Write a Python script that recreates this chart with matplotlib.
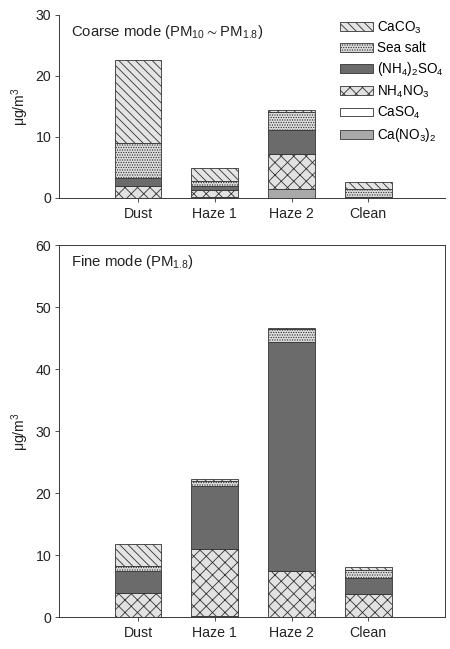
import matplotlib
matplotlib.use('Agg')
import matplotlib.pyplot as plt
import numpy as np

plt.rcParams['font.family'] = ['Liberation Sans', 'DejaVu Sans']
plt.rcParams['mathtext.fontset'] = 'custom'
plt.rcParams['mathtext.rm'] = 'Liberation Sans'
plt.rcParams['mathtext.default'] = 'regular'
plt.rcParams['hatch.linewidth'] = 0.8

# data
events = ['Dust', 'Haze 1', 'Haze 2', 'Clean']
species = ['Ca(NO$_3$)$_2$', 'CaSO$_4$', 'NH$_4$NO$_3$', '(NH$_4$)$_2$SO$_4$', 'Sea salt', 'CaCO$_3$']

coarse_CaNO3 = [0.0, 0.15, 1.4, 0.0]
coarse_CaSO4 = [0.0, 0.0, 0.0, 0.0]
coarse_NH4NO3 = [2.0, 1.1, 5.8, 0.1]
coarse_NH4SO4 = [1.2, 0.7, 4.0, 0.0]
coarse_seasalt = [5.8, 0.85, 2.9, 1.3]
coarse_CaCO3 = [13.6, 2.1, 0.3, 1.25]

fine_CaNO3 = [0.0, 0.2, 0.0, 0.0]
fine_CaSO4 = [0.0, 0.0, 0.0, 0.0]
fine_NH4NO3 = [3.95, 10.8, 7.5, 3.7]
fine_NH4SO4 = [3.4, 10.1, 36.9, 2.6]
fine_seasalt = [0.85, 0.9, 2.0, 1.3]
fine_CaCO3 = [3.5, 0.3, 0.2, 0.5]

coarse = [coarse_CaNO3, coarse_CaSO4, coarse_NH4NO3, coarse_NH4SO4, coarse_seasalt, coarse_CaCO3]
fine = [fine_CaNO3, fine_CaSO4, fine_NH4NO3, fine_NH4SO4, fine_seasalt, fine_CaCO3]

faces = ['#a9a9a9', 'white', '#e2e2e2', '#6b6b6b', '#dedede', '#e4e4e4']
hatches = [None, None, 'xx', None, '.....', '\\\\\\']
edge = '#333333'

fig = plt.figure(figsize=(6, 6.49 * 4 / 3), dpi=75)
ax1 = fig.add_axes([0.131, 0.695, 0.858, 0.282])
ax2 = fig.add_axes([0.131, 0.0493, 0.858, 0.573])

x = np.arange(len(events))


def stack(ax, layers):
    bottom = np.zeros(len(events))
    handles = []
    for vals, fc, h, lab in zip(layers, faces, hatches, species):
        b = ax.bar(x, vals, 0.61, bottom=bottom, color=fc, edgecolor=edge,
                   linewidth=0.8, hatch=h, label=lab)
        handles.append(b)
        bottom = bottom + np.array(vals)
    return handles


h = stack(ax1, coarse)
stack(ax2, fine)

for ax, top, step in [(ax1, 30, 10), (ax2, 60, 10)]:
    ax.set_xlim(-1.03, 4.0)
    ax.set_ylim(0, top)
    ax.set_yticks(np.arange(0, top + 1, step))
    ax.set_xticks(x)
    ax.set_xticklabels(events)
    ax.tick_params(axis='both', labelsize=13.5, direction='out', length=4,
                   width=0.8, color='#333333', labelcolor='#222222')
    ax.tick_params(axis='x', pad=5)
    ax.set_ylabel('μg/m$^3$', fontsize=13.5, labelpad=4, color='#222222')
    for s in ax.spines.values():
        s.set_linewidth(0.9)
        s.set_color('#333333')

ax1.spines['top'].set_visible(False)
ax1.spines['right'].set_visible(False)

ax1.text(0.031, 0.905, 'Coarse mode (PM$_{10}$$\\sim$PM$_{1.8}$)', transform=ax1.transAxes,
         fontsize=14.3, va='center', ha='left', color='#222222')
ax2.text(0.031, 0.955, 'Fine mode (PM$_{1.8}$)', transform=ax2.transAxes,
         fontsize=14.3, va='center', ha='left', color='#222222')

ax1.legend(h[::-1], species[::-1], loc='upper left', bbox_to_anchor=(0.728, 0.975),
           frameon=False, fontsize=13, handlelength=2.4, handleheight=0.6,
           handletextpad=0.35, labelspacing=0.38, borderaxespad=0, borderpad=0)

fig.savefig('out.png', dpi=75)
